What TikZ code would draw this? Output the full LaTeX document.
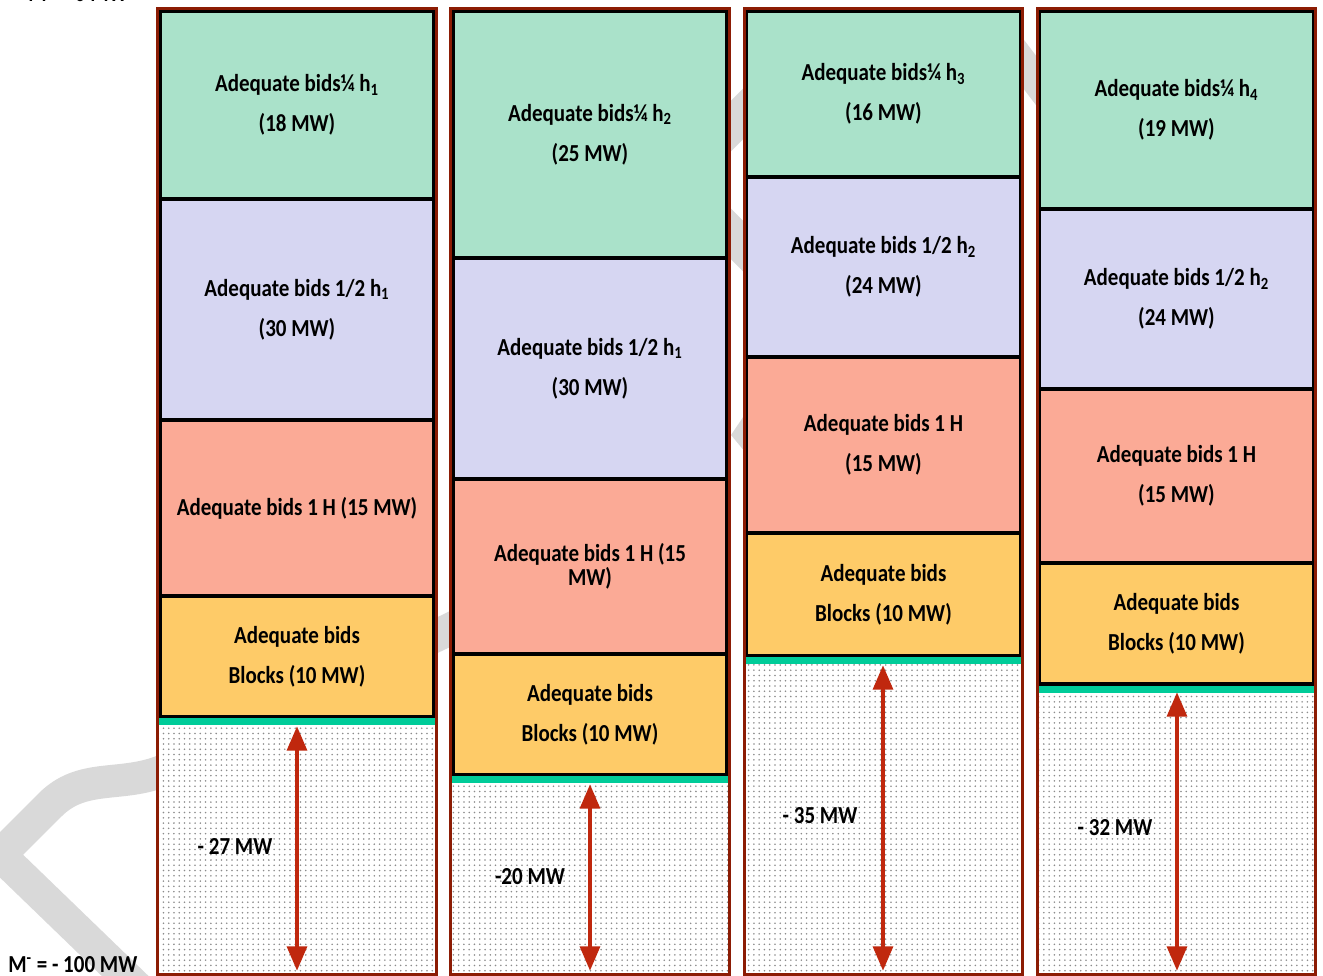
\documentclass[tikz,border=0pt]{standalone}
\usepackage{fontspec}
\setmainfont{Carlito}[FakeStretch=0.86]
\usetikzlibrary{arrows.meta,patterns}

\definecolor{bidgreen}{RGB}{170,226,202}
\definecolor{bidblue}{RGB}{214,214,242}
\definecolor{bidred}{RGB}{251,170,150}
\definecolor{bidyellow}{RGB}{254,203,104}
\definecolor{limitline}{RGB}{0,204,153}
\definecolor{colframe}{RGB}{140,28,4}
\definecolor{arrowred}{RGB}{192,40,14}
\definecolor{markgray}{RGB}{217,217,217}

\tikzset{
  bidfont/.style={font=\bfseries\fontsize{13.9}{22.8}\selectfont},
  bidbox/.style={draw=black, line width=2pt, minimum width=54.8mm,
    align=center, inner sep=0pt, bidfont},
  colframe/.style={draw=colframe, line width=1.8pt},
  freezone/.style={fill=white, postaction={pattern=dots, pattern color=black!45}},
  limit/.style={draw=limitline, line width=4pt},
  bidarrow/.style={draw=arrowred, line width=2.8pt,
    {Triangle[length=14pt,width=11pt]}-{Triangle[length=14pt,width=11pt]}},
  markband/.style={draw=markgray, line width=6.5mm, line join=miter}
}

\begin{document}
\begin{tikzpicture}[x=0.2mm,y=-0.2mm]
  \useasboundingbox (0,0) rectangle (1323,976);
  \clip (0,0) rectangle (1323,976);

  % watermark behind the columns
  \draw[markband] (150,1000) -- (0,855) -- (50,805) to[out=45,in=200] (160,772)
    to[out=20,in=205] (444,632) -- (520,595);
  \draw[markband, line width=7.2mm] (800,57) -- (677,180) -- (800,303);
  \fill[markgray] (731,435) -- (760,392) -- (760,470) -- cycle;
  \draw[markband, line width=6mm] (990,20) -- (1070,125);

  % free zones
  \path[freezone] (157.5,722) rectangle (436.5,974.5);
  \path[freezone] (450.5,780) rectangle (729.5,974.5);
  \path[freezone] (744.5,661) rectangle (1022.5,974.5);
  \path[freezone] (1037.5,689) rectangle (1315.5,974.5);

  % column 1
  \node[bidbox, fill=bidgreen, minimum height=37.6mm] (c1q) at (297,105)
    {Adequate bids¼ h\textsubscript{1}\\(18 MW)};
  \node[bidbox, fill=bidblue, minimum height=44.2mm] (c1h) at (297,309.5)
    {Adequate bids 1/2 h\textsubscript{1}\\(30 MW)};
  \node[bidbox, fill=bidred, minimum height=35.2mm] (c1o) at (297,508)
    {Adequate bids 1 H (15 MW)};
  \node[bidbox, fill=bidyellow, minimum height=24.2mm] (c1b) at (297,656.5)
    {Adequate bids\\Blocks (10 MW)};

  % column 2
  \node[bidbox, fill=bidgreen, minimum height=49.4mm] (c2q) at (590,134.5)
    {Adequate bids¼ h\textsubscript{2}\\(25 MW)};
  \node[bidbox, fill=bidblue, minimum height=44.2mm] (c2h) at (590,368.5)
    {Adequate bids 1/2 h\textsubscript{1}\\(30 MW)};
  \node[bidbox, fill=bidred, minimum height=35mm,
    font=\bfseries\fontsize{13.9}{13.8}\selectfont] (c2o) at (590,566.5)
    {Adequate bids 1 H (15\\MW)};
  \node[bidbox, fill=bidyellow, minimum height=24.2mm] (c2b) at (590,714.5)
    {Adequate bids\\Blocks (10 MW)};

  % column 3
  \node[bidbox, fill=bidgreen, minimum height=33.2mm] (c3q) at (883.5,94)
    {Adequate bids¼ h\textsubscript{3}\\(16 MW)};
  \node[bidbox, fill=bidblue, minimum height=36mm] (c3h) at (883.5,267)
    {Adequate bids 1/2 h\textsubscript{2}\\(24 MW)};
  \node[bidbox, fill=bidred, minimum height=35.2mm] (c3o) at (883.5,445)
    {Adequate bids 1 H\\(15 MW)};
  \node[bidbox, fill=bidyellow, minimum height=24.6mm] (c3b) at (883.5,594.5)
    {Adequate bids\\Blocks (10 MW)};

  % column 4
  \node[bidbox, fill=bidgreen, minimum height=39.6mm] (c4q) at (1176.5,110)
    {Adequate bids¼ h\textsubscript{4}\\(19 MW)};
  \node[bidbox, fill=bidblue, minimum height=36mm] (c4h) at (1176.5,299)
    {Adequate bids 1/2 h\textsubscript{2}\\(24 MW)};
  \node[bidbox, fill=bidred, minimum height=34.8mm] (c4o) at (1176.5,476)
    {Adequate bids 1 H\\(15 MW)};
  \node[bidbox, fill=bidyellow, minimum height=24.2mm] (c4b) at (1176.5,623.5)
    {Adequate bids\\Blocks (10 MW)};

  % limit lines under the blocks
  \draw[limit] (158,721.5) -- (436,721.5);
  \draw[limit] (451,779.5) -- (729,779.5);
  \draw[limit] (745,660.5) -- (1022,660.5);
  \draw[limit] (1038,689.5) -- (1315,689.5);

  % column frames
  \draw[colframe] (157.5,8.5) rectangle (436.5,974.5);
  \draw[colframe] (450.5,8.5) rectangle (729.5,974.5);
  \draw[colframe] (744.5,8.5) rectangle (1022.5,974.5);
  \draw[colframe] (1037.5,8.5) rectangle (1315.5,974.5);

  % margins
  \coordinate (m1t) at (297,726);
  \coordinate (m1b) at (297,971);
  \coordinate (m2t) at (590,784);
  \coordinate (m2b) at (590,971);
  \coordinate (m3t) at (883,665);
  \coordinate (m3b) at (883,971);
  \coordinate (m4t) at (1177,692);
  \coordinate (m4b) at (1177,971);
  \draw[bidarrow] (m1t) -- (m1b);
  \draw[bidarrow] (m2t) -- (m2b);
  \draw[bidarrow] (m3t) -- (m3b);
  \draw[bidarrow] (m4t) -- (m4b);

  \node[bidfont] (l1) at (235,846) {- 27 MW};
  \node[bidfont] (l2) at (530,877) {-20 MW};
  \node[bidfont] (l3) at (820,816) {- 35 MW};
  \node[bidfont] (l4) at (1115,828) {- 32 MW};

  \node[bidfont, anchor=base west, inner sep=0pt] (mplus) at (28,2) {M\textsuperscript{+} = 0 MW};
  \node[bidfont, anchor=base west, inner sep=0pt] (mminus) at (8,973) {M\textsuperscript{-} = - 100 MW};
\end{tikzpicture}
\end{document}
